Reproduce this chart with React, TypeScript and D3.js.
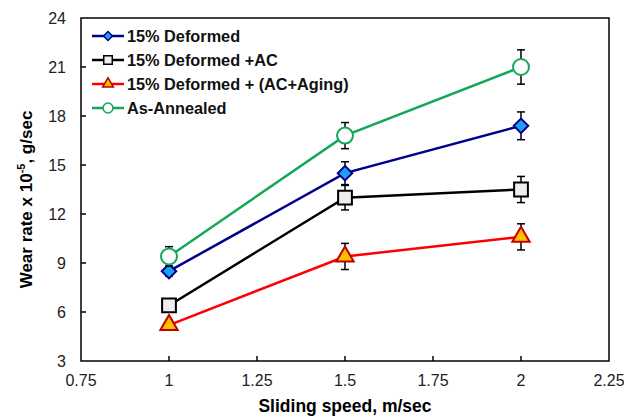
import React from "react";
import * as d3 from "d3";

// sliding speed (m/sec)
const speeds = [1, 1.5, 2];

// wear rate x 10^-5 g/sec
const deformed = [8.5, 14.5, 17.4];
const deformedErr = [0.3, 0.7, 0.85];
const deformedAC = [6.4, 13.0, 13.5];
const deformedACErr = [0.3, 0.75, 0.8];
const deformedAging = [5.2, 9.4, 10.6];
const deformedAgingErr = [0.3, 0.8, 0.8];
const annealed = [9.4, 16.8, 21.0];
const annealedErr = [0.6, 0.8, 1.05];

const xTicks = [0.75, 1, 1.25, 1.5, 1.75, 2, 2.25];
const yTicks = [3, 6, 9, 12, 15, 18, 21, 24];

const seriesNames = [
  "15% Deformed",
  "15% Deformed +AC",
  "15% Deformed + (AC+Aging)",
  "As-Annealed",
];

const W = 624;
const H = 417;
const margin = { left: 81, right: 15, top: 18, bottom: 56 };
const font = "'Liberation Sans', Arial, sans-serif";

type Series = {
  name: string;
  values: number[];
  errs: number[];
  line: string;
  fill: string;
  stroke: string;
  shape: string;
};

const series: Series[] = [
  { name: seriesNames[0], values: deformed, errs: deformedErr, line: "#00008b", fill: "#1ea0f0", stroke: "#00008b", shape: "diamond" },
  { name: seriesNames[1], values: deformedAC, errs: deformedACErr, line: "#000000", fill: "#eeeeee", stroke: "#000000", shape: "square" },
  { name: seriesNames[2], values: deformedAging, errs: deformedAgingErr, line: "#ff0000", fill: "#ffc000", stroke: "#c00000", shape: "triangle" },
  { name: seriesNames[3], values: annealed, errs: annealedErr, line: "#13a858", fill: "#ffffff", stroke: "#13a858", shape: "circle" },
];

const markerPath = (shape: string, big: boolean) => {
  const k = big ? 1 : 0.62;
  if (shape === "diamond") return d3.symbol(d3.symbolSquare, 105 * k * k)();
  if (shape === "square") return d3.symbol(d3.symbolSquare, 190 * k * k)();
  if (shape === "triangle") return d3.symbol(d3.symbolTriangle, 130 * k * k)();
  return d3.symbol(d3.symbolCircle, 200 * k * k)();
};

const App = () => {
  const x = d3.scaleLinear().domain([0.75, 2.25]).range([margin.left, W - margin.right]);
  const y = d3.scaleLinear().domain([3, 24]).range([H - margin.bottom, margin.top]);
  const line = d3
    .line<number>()
    .x((d, i) => x(speeds[i]))
    .y(d => y(d));

  const x0 = x(0.75);
  const x1 = x(2.25);
  const y0 = y(3);
  const y1 = y(24);

  return (
    <svg width={W} height={H} style={{ position: "absolute", left: 0, top: 0 }} fontFamily={font}>
      <rect width={W} height={H} fill="#fff" />

      {/* ticks, inside */}
      {xTicks.slice(1, -1).map(t => (
        <line key={"xt" + t} x1={x(t)} x2={x(t)} y1={y0} y2={y0 - 5} stroke="#000" strokeWidth={1.5} />
      ))}
      {yTicks.slice(1, -1).map(t => (
        <line key={"yt" + t} x1={x0} x2={x0 + 5} y1={y(t)} y2={y(t)} stroke="#000" strokeWidth={1.5} />
      ))}
      <rect x={x0} y={y1} width={x1 - x0} height={y0 - y1} fill="none" stroke="#000" strokeWidth={1.5} />

      {xTicks.map(t => (
        <text key={"xl" + t} x={x(t)} y={y0 + 25} textAnchor="middle" fontSize={16} fill="#222">
          {t}
        </text>
      ))}
      {yTicks.map(t => (
        <text key={"yl" + t} x={x0 - 15} y={y(t) + 5.5} textAnchor="end" fontSize={16} fill="#222">
          {t}
        </text>
      ))}

      <text x={(x0 + x1) / 2} y={H - 5} textAnchor="middle" fontSize={17.5} fontWeight="bold">
        Sliding speed, m/sec
      </text>
      <text transform={`translate(32, ${(y0 + y1) / 2 + 10}) rotate(-90)`} textAnchor="middle" fontSize={17} fontWeight="bold">
        Wear rate x 10<tspan fontSize={11} dy={-7}>-5</tspan>
        <tspan dy={7}>, g/sec</tspan>
      </text>

      {series.map(s => (
        <g key={s.name}>
          <path d={line(s.values) || ""} fill="none" stroke={s.line} strokeWidth={2.5} />
          {s.values.map((v, i) => {
            const cx = x(speeds[i]);
            return (
              <g key={i} stroke="#000" strokeWidth={1.5}>
                <line x1={cx} x2={cx} y1={y(v - s.errs[i])} y2={y(v + s.errs[i])} />
                <line x1={cx - 4} x2={cx + 4} y1={y(v - s.errs[i])} y2={y(v - s.errs[i])} />
                <line x1={cx - 4} x2={cx + 4} y1={y(v + s.errs[i])} y2={y(v + s.errs[i])} />
              </g>
            );
          })}
          {s.values.map((v, i) => (
            <path
              key={"m" + i}
              d={markerPath(s.shape, true) || ""}
              transform={`translate(${x(speeds[i])},${y(v)})${s.shape === "diamond" ? " rotate(45)" : ""}`}
              fill={s.fill}
              stroke={s.stroke}
              strokeWidth={2}
            />
          ))}
        </g>
      ))}

      {/* legend */}
      {series.map((s, i) => {
        const ly = 36 + i * 24;
        return (
          <g key={"lg" + s.name}>
            <line x1={92} x2={124} y1={ly} y2={ly} stroke={s.line} strokeWidth={2.5} />
            <path
              d={markerPath(s.shape, false) || ""}
              transform={`translate(108,${ly})${s.shape === "diamond" ? " rotate(45)" : ""}`}
              fill={s.fill}
              stroke={s.stroke}
              strokeWidth={1.5}
            />
            <text x={127} y={ly + 6} fontSize={16.3} fontWeight="bold" fill="#111">
              {s.name}
            </text>
          </g>
        );
      })}
    </svg>
  );
};

export default App;
